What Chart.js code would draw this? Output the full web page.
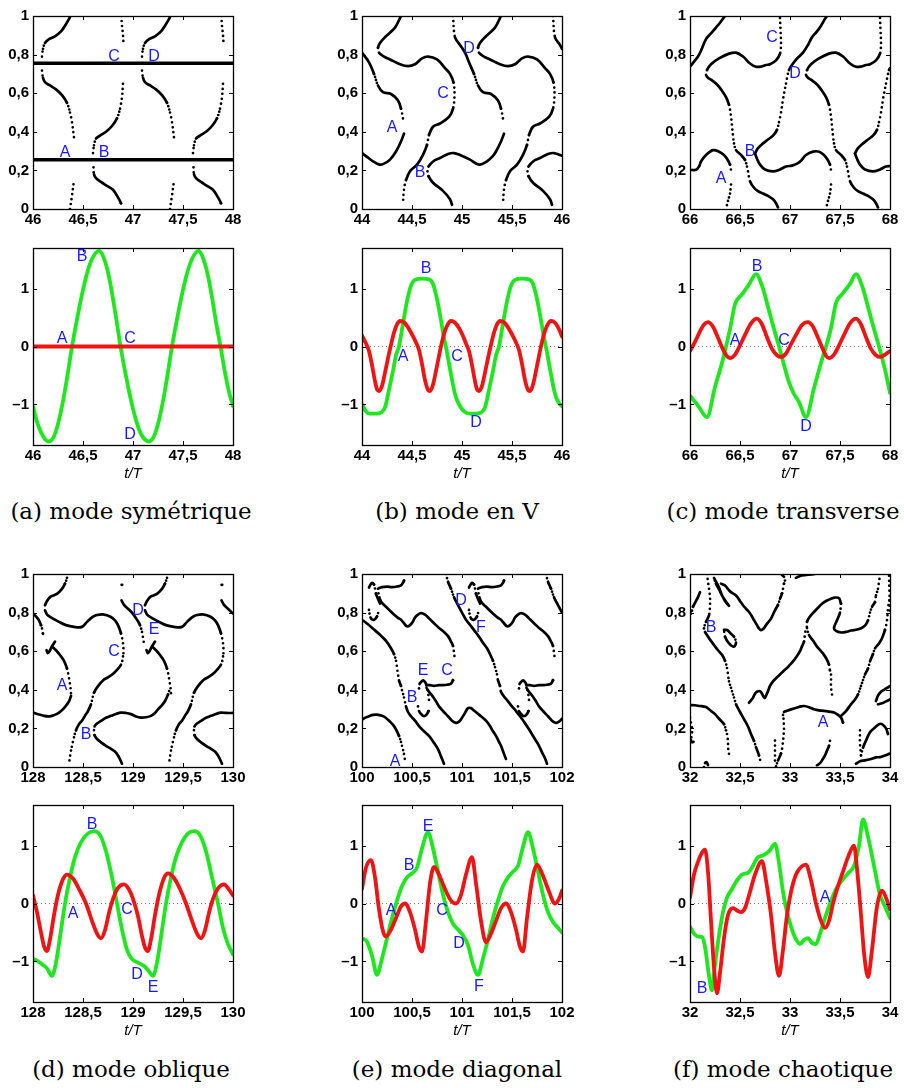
<!DOCTYPE html>
<html>
<head>
<meta charset="utf-8">
<title>Modes</title>
<script src="https://cdn.jsdelivr.net/npm/chart.js@4.4.1/dist/chart.umd.min.js"></script>
<style>
  body { margin: 0; background: #fff; width: 904px; height: 1088px; position: relative; overflow: hidden; }
  canvas { position: absolute; }
  .cap { position: absolute; width: 320px; text-align: center; font-family: "DejaVu Serif", serif; font-size: 23px; line-height: 26px; color: #000; white-space: nowrap; }
</style>
</head>
<body>
<script>
// ---------- tick labels ----------
const yTicksTop = [0, 0.2, 0.4, 0.6, 0.8, 1];
const yLabelsTop = ['0', '0,2', '0,4', '0,6', '0,8', '1'];
const yTicksBot = [-1, 0, 1];
const yLabelsBot = ['\u20131', '0', '1'];

const xTicksA = [46, 46.5, 47, 47.5, 48];
const xLabelsA = ['46', '46,5', '47', '47,5', '48'];
const xTicksB = [44, 44.5, 45, 45.5, 46];
const xLabelsB = ['44', '44,5', '45', '45,5', '46'];
const xTicksC = [66, 66.5, 67, 67.5, 68];
const xLabelsC = ['66', '66,5', '67', '67,5', '68'];
const xTicksD = [128, 128.5, 129, 129.5, 130];
const xLabelsD = ['128', '128,5', '129', '129,5', '130'];
const xTicksE = [100, 100.5, 101, 101.5, 102];
const xLabelsE = ['100', '100,5', '101', '101,5', '102'];
const xTicksF = [32, 32.5, 33, 33.5, 34];
const xLabelsF = ['32', '32,5', '33', '33,5', '34'];

const captions = ['(a) mode sym\u00e9trique', '(b) mode en V', '(c) mode transverse',
                  '(d) mode oblique', '(e) mode diagonal', '(f) mode chaotique'];

// ---------- (a) ----------
const levelsA = [0.255, 0.755];
const curvesA = [
  [[46.09,0.79],[46.10,0.83],[46.12,0.86],[46.16,0.88],[46.22,0.895],[46.28,0.92],[46.32,0.95],[46.355,0.98],[46.375,1.0]],
  [[46.883,1.0],[46.89,0.95],[46.90,0.90],[46.905,0.86]],
  [[46.09,0.717],[46.10,0.68],[46.12,0.657],[46.17,0.64],[46.23,0.62],[46.29,0.59],[46.34,0.55],[46.37,0.50],[46.39,0.45],[46.41,0.37]],
  [[46.60,0.29],[46.61,0.33],[46.63,0.365],[46.67,0.38],[46.73,0.40],[46.79,0.43],[46.84,0.47],[46.87,0.52],[46.89,0.58],[46.90,0.65]],
  [[46.37,0.0],[46.39,0.07],[46.41,0.148]],
  [[46.605,0.216],[46.61,0.18],[46.63,0.16],[46.68,0.14],[46.74,0.12],[46.80,0.10],[46.85,0.06],[46.88,0.03],[46.89,0.01]],
  [[47.09,0.79],[47.10,0.83],[47.12,0.86],[47.16,0.88],[47.22,0.895],[47.28,0.92],[47.32,0.95],[47.355,0.98],[47.375,1.0]],
  [[47.883,1.0],[47.89,0.95],[47.90,0.90],[47.905,0.86]],
  [[47.09,0.717],[47.10,0.68],[47.12,0.657],[47.17,0.64],[47.23,0.62],[47.29,0.59],[47.34,0.55],[47.37,0.50],[47.39,0.45],[47.41,0.37]],
  [[47.60,0.29],[47.61,0.33],[47.63,0.365],[47.67,0.38],[47.73,0.40],[47.79,0.43],[47.84,0.47],[47.87,0.52],[47.89,0.58],[47.90,0.65]],
  [[47.37,0.0],[47.39,0.07],[47.41,0.148]],
  [[47.605,0.216],[47.61,0.18],[47.63,0.16],[47.68,0.14],[47.74,0.12],[47.80,0.10],[47.85,0.06],[47.88,0.03],[47.89,0.01]]
];
const greenA = [[46.00,-1.03],[46.04,-1.30],[46.08,-1.48],[46.12,-1.60],[46.16,-1.64],[46.21,-1.55],[46.26,-1.27],[46.31,-0.85],[46.35,-0.44],[46.39,0],[46.44,0.47],[46.49,0.90],[46.54,1.26],[46.59,1.51],[46.66,1.65],[46.71,1.52],[46.76,1.20],[46.80,0.82],[46.84,0.40],[46.875,0],[46.93,-0.51],[46.98,-0.93],[47.03,-1.27],[47.08,-1.51],[47.16,-1.64],[47.21,-1.55],[47.26,-1.27],[47.31,-0.85],[47.35,-0.44],[47.39,0],[47.44,0.47],[47.49,0.90],[47.54,1.26],[47.59,1.51],[47.655,1.65],[47.70,1.53],[47.75,1.22],[47.79,0.85],[47.83,0.42],[47.875,0],[47.92,-0.45],[47.96,-0.78],[48.00,-1.03]];
const redA = [[46.0,0],[48.0,0]];
const lettersATop = [['A',46.32,0.29],['B',46.71,0.29],['C',46.81,0.79],['D',47.21,0.79]];
const lettersABot = [['B',46.49,1.55],['A',46.29,0.14],['C',46.97,0.14],['D',46.97,-1.52]];

// ---------- (b) ----------
const curvesB = [
  [[44.39,1.0],[44.33,0.94],[44.23,0.89],[44.18,0.86],[44.16,0.835],[44.17,0.81],[44.22,0.79],[44.28,0.775],[44.38,0.75],[44.46,0.74],[44.53,0.75],[44.60,0.78],[44.66,0.79],[44.75,0.775],[44.83,0.73],[44.88,0.70],[44.915,0.655],[44.925,0.59],[44.91,0.52],[44.87,0.477],[44.78,0.443],[44.71,0.426],[44.67,0.383],[44.65,0.332],[44.61,0.281],[44.55,0.23],[44.48,0.196],[44.44,0.15],[44.42,0.10],[44.41,0.034]],
  [[44.0,0.81],[44.07,0.76],[44.12,0.70],[44.16,0.64],[44.21,0.605],[44.29,0.596],[44.36,0.562],[44.39,0.52],[44.41,0.468]],
  [[44.42,0.39],[44.39,0.35],[44.34,0.298],[44.28,0.256],[44.22,0.235],[44.175,0.23],[44.11,0.247],[44.05,0.27],[44.0,0.29]],
  [[44.90,0.022],[44.88,0.051],[44.81,0.094],[44.71,0.136],[44.665,0.17],[44.655,0.195],[44.665,0.22],[44.72,0.25],[44.78,0.264],[44.86,0.285],[44.92,0.29],[44.98,0.28],[45.08,0.256],[45.17,0.23],[45.25,0.247],[45.31,0.275],[45.34,0.298],[45.39,0.35],[45.42,0.39]],
  [[44.91,1.0],[44.93,0.89],[44.98,0.85],[45.03,0.81],[45.07,0.76],[45.12,0.70],[45.16,0.64],[45.21,0.605],[45.29,0.596],[45.36,0.562],[45.39,0.52],[45.41,0.468]],
  [[45.39,1.0],[45.33,0.94],[45.23,0.89],[45.18,0.86],[45.16,0.835],[45.17,0.81],[45.22,0.79],[45.28,0.775],[45.38,0.75],[45.46,0.74],[45.53,0.75],[45.60,0.78],[45.66,0.79],[45.75,0.775],[45.83,0.73],[45.88,0.70],[45.915,0.655],[45.925,0.59],[45.91,0.52],[45.87,0.477],[45.78,0.443],[45.71,0.426],[45.67,0.383],[45.65,0.332],[45.61,0.281],[45.55,0.23],[45.48,0.196],[45.44,0.15],[45.42,0.10],[45.41,0.034]],
  [[45.90,0.022],[45.88,0.051],[45.81,0.094],[45.71,0.136],[45.665,0.17],[45.655,0.195],[45.665,0.22],[45.72,0.25],[45.78,0.264],[45.86,0.285],[45.92,0.29],[45.98,0.28],[46.0,0.276]],
  [[45.91,1.0],[45.93,0.89],[45.98,0.85],[46.0,0.83]]
];
const greenB = [[44.00,-1.00],[44.04,-1.12],[44.08,-1.16],[44.14,-1.16],[44.19,-1.14],[44.23,-1.05],[44.27,-0.75],[44.31,-0.42],[44.34,-0.15],[44.37,0],[44.41,0.40],[44.45,0.78],[44.49,1.05],[44.53,1.15],[44.60,1.17],[44.67,1.16],[44.71,1.08],[44.75,0.82],[44.79,0.45],[44.82,0.15],[44.85,-0.10],[44.89,-0.48],[44.93,-0.82],[44.97,-1.00],[45.02,-1.12],[45.08,-1.16],[45.14,-1.16],[45.19,-1.14],[45.23,-1.05],[45.27,-0.75],[45.31,-0.42],[45.34,-0.15],[45.37,0],[45.41,0.40],[45.45,0.78],[45.49,1.05],[45.53,1.15],[45.60,1.17],[45.67,1.16],[45.71,1.08],[45.75,0.82],[45.79,0.45],[45.82,0.15],[45.85,-0.10],[45.89,-0.48],[45.93,-0.82],[45.97,-0.98],[46.00,-1.03]];
const redB = [[44.00,0.19],[44.04,0.05],[44.07,-0.08],[44.10,-0.32],[44.13,-0.60],[44.15,-0.74],[44.17,-0.77],[44.20,-0.68],[44.23,-0.45],[44.26,-0.20],[44.29,0.03],[44.32,0.24],[44.35,0.38],[44.38,0.44],[44.42,0.42],[44.46,0.33],[44.50,0.21],[44.54,0.07],[44.57,-0.06],[44.60,-0.30],[44.63,-0.58],[44.66,-0.75],[44.68,-0.77],[44.71,-0.66],[44.74,-0.42],[44.77,-0.16],[44.80,0.08],[44.83,0.27],[44.86,0.39],[44.89,0.44],[44.93,0.41],[44.97,0.32],[45.01,0.18],[45.04,0.05],[45.07,-0.08],[45.10,-0.32],[45.13,-0.60],[45.15,-0.74],[45.17,-0.77],[45.20,-0.68],[45.23,-0.45],[45.26,-0.20],[45.29,0.03],[45.32,0.24],[45.35,0.38],[45.38,0.44],[45.42,0.42],[45.46,0.33],[45.50,0.21],[45.54,0.07],[45.57,-0.06],[45.60,-0.30],[45.63,-0.58],[45.66,-0.75],[45.68,-0.77],[45.71,-0.66],[45.74,-0.42],[45.77,-0.16],[45.80,0.08],[45.83,0.27],[45.86,0.39],[45.89,0.44],[45.93,0.41],[45.97,0.30],[46.00,0.17]];
const lettersBTop = [['A',44.30,0.42],['B',44.58,0.19],['C',44.81,0.60],['D',45.07,0.83]];
const lettersBBot = [['B',44.64,1.34],['A',44.41,-0.17],['C',44.95,-0.17],['D',45.14,-1.32]];

// ---------- (c) ----------
const curvesC = [
  [[66.0,0.737],[66.05,0.77],[66.08,0.79],[66.11,0.82],[66.16,0.88],[66.21,0.91],[66.26,0.94],[66.30,0.965],[66.35,1.0]],
  [[66.90,0.99],[66.905,0.93],[66.91,0.856],[66.90,0.805],[66.86,0.77],[66.80,0.75],[66.76,0.746],[66.71,0.738],[66.66,0.737],[66.60,0.754],[66.53,0.79],[66.46,0.81],[66.39,0.805],[66.29,0.78],[66.21,0.75],[66.17,0.72],[66.16,0.695],[66.18,0.68],[66.21,0.67],[66.27,0.645],[66.31,0.62],[66.36,0.58],[66.39,0.54],[66.41,0.48],[66.42,0.43],[66.43,0.38],[66.44,0.34],[66.46,0.305],[66.51,0.28],[66.55,0.254],[66.57,0.22],[66.58,0.195],[66.60,0.144],[66.64,0.11],[66.68,0.093],[66.73,0.08],[66.78,0.068],[66.83,0.05],[66.86,0.03],[66.88,0.008]],
  [[66.0,0.203],[66.06,0.203],[66.09,0.22],[66.11,0.246],[66.16,0.28],[66.23,0.305],[66.29,0.297],[66.34,0.28],[66.37,0.26],[66.40,0.23],[66.41,0.20]],
  [[66.41,0.127],[66.40,0.08],[66.38,0.042],[66.36,0.0]],
  [[66.65,0.288],[66.68,0.315],[66.73,0.34],[66.78,0.36],[66.83,0.38],[66.87,0.41],[66.89,0.45],[66.91,0.5],[66.93,0.568],[66.96,0.65],[66.99,0.72],[67.03,0.754],[67.08,0.785],[67.13,0.81],[67.18,0.85],[67.22,0.89],[67.27,0.92],[67.31,0.95],[67.35,0.985],[67.37,1.0]],
  [[66.65,0.288],[66.67,0.26],[66.70,0.23],[66.75,0.205],[66.83,0.195],[66.90,0.205],[66.96,0.22],[67.02,0.225],[67.07,0.235],[67.11,0.25],[67.16,0.28],[67.23,0.297],[67.29,0.297],[67.34,0.28],[67.37,0.26],[67.40,0.23],[67.41,0.20]],
  [[67.41,0.127],[67.40,0.08],[67.38,0.042],[67.36,0.0]],
  [[67.90,0.99],[67.905,0.93],[67.91,0.856],[67.90,0.805],[67.86,0.77],[67.80,0.75],[67.76,0.746],[67.71,0.738],[67.66,0.737],[67.60,0.754],[67.53,0.79],[67.46,0.81],[67.39,0.805],[67.29,0.78],[67.21,0.75],[67.17,0.72],[67.16,0.695],[67.18,0.68],[67.21,0.67],[67.27,0.645],[67.31,0.62],[67.36,0.58],[67.39,0.54],[67.41,0.48],[67.42,0.43],[67.43,0.38],[67.44,0.34],[67.46,0.305],[67.51,0.28],[67.55,0.254],[67.57,0.22],[67.58,0.195],[67.60,0.144],[67.64,0.11],[67.68,0.093],[67.73,0.08],[67.78,0.068],[67.83,0.05],[67.86,0.03],[67.88,0.008]],
  [[67.65,0.288],[67.68,0.315],[67.73,0.34],[67.78,0.36],[67.83,0.38],[67.87,0.41],[67.89,0.45],[67.91,0.5],[67.93,0.568],[67.96,0.65],[67.99,0.72],[68.0,0.73]],
  [[67.65,0.288],[67.67,0.26],[67.70,0.23],[67.75,0.205],[67.83,0.195],[67.90,0.205],[67.96,0.22],[68.0,0.222]]
];
const greenC = [[66.00,-0.85],[66.08,-1.02],[66.17,-1.22],[66.25,-0.70],[66.32,-0.28],[66.36,0.0],[66.40,0.30],[66.45,0.73],[66.52,0.90],[66.59,1.07],[66.66,1.25],[66.72,1.05],[66.79,0.62],[66.84,0.30],[66.89,0.0],[66.94,-0.32],[66.99,-0.62],[67.04,-0.82],[67.09,-0.96],[67.16,-1.22],[67.24,-0.72],[67.31,-0.28],[67.36,0.0],[67.41,0.32],[67.46,0.75],[67.53,0.92],[67.60,1.08],[67.66,1.25],[67.72,1.05],[67.79,0.62],[67.84,0.30],[67.89,0.0],[67.95,-0.40],[68.00,-0.80]];
const redC = [[66.00,-0.08],[66.05,0.08],[66.10,0.26],[66.14,0.38],[66.18,0.42],[66.23,0.34],[66.28,0.15],[66.33,-0.05],[66.37,-0.17],[66.40,-0.20],[66.45,-0.14],[66.50,0.02],[66.55,0.20],[66.61,0.40],[66.67,0.48],[66.72,0.38],[66.77,0.16],[66.82,-0.04],[66.87,-0.15],[66.91,-0.18],[66.96,-0.12],[67.01,0.04],[67.06,0.20],[67.12,0.37],[67.18,0.42],[67.23,0.34],[67.28,0.15],[67.33,-0.05],[67.36,-0.16],[67.39,-0.20],[67.44,-0.14],[67.49,0.02],[67.54,0.20],[67.60,0.40],[67.66,0.48],[67.71,0.38],[67.76,0.16],[67.81,-0.04],[67.86,-0.15],[67.90,-0.18],[67.95,-0.14],[68.00,-0.08]];
const lettersCTop = [['A',66.31,0.16],['B',66.60,0.30],['C',66.82,0.89],['D',67.05,0.70]];
const lettersCBot = [['B',66.67,1.38],['A',66.45,0.11],['C',66.94,0.11],['D',67.16,-1.38]];

// ---------- (d) ----------
const curvesD = [
  [[128.12,0.838],[128.14,0.86],[128.17,0.88],[128.21,0.89],[128.24,0.897],[128.29,0.923],[128.32,0.95],[128.34,0.98],[128.35,1.0]],
  [[128.12,0.812],[128.14,0.79],[128.17,0.778],[128.26,0.752],[128.33,0.735],[128.41,0.726],[128.49,0.726],[128.54,0.752],[128.59,0.775],[128.63,0.786],[128.71,0.79],[128.77,0.78],[128.82,0.76],[128.85,0.735],[128.88,0.692],[128.90,0.641],[128.905,0.60],[128.90,0.573],[128.88,0.53],[128.81,0.487],[128.75,0.465],[128.71,0.453],[128.65,0.419],[128.61,0.385],[128.58,0.325],[128.55,0.29],[128.53,0.274],[128.49,0.24],[128.46,0.222],[128.43,0.19],[128.41,0.154],[128.38,0.085],[128.36,0.017]],
  [[128.0,0.795],[128.03,0.78],[128.06,0.76],[128.08,0.735],[128.09,0.718],[128.10,0.69],[128.11,0.667]],
  [[128.22,0.65],[128.19,0.625],[128.165,0.60],[128.15,0.59],[128.135,0.605]],
  [[128.19,0.625],[128.23,0.605],[128.27,0.58],[128.31,0.55],[128.34,0.51],[128.36,0.46],[128.375,0.41],[128.38,0.38]],
  [[128.38,0.368],[128.36,0.34],[128.34,0.325],[128.31,0.305],[128.28,0.29],[128.24,0.275],[128.19,0.265],[128.15,0.262],[128.11,0.265],[128.06,0.272],[128.0,0.282]],
  [[128.89,0.017],[128.87,0.04],[128.85,0.06],[128.82,0.08],[128.78,0.094],[128.73,0.11],[128.68,0.128],[128.64,0.145],[128.615,0.165],[128.61,0.19],[128.615,0.21],[128.64,0.225],[128.68,0.239],[128.73,0.255],[128.78,0.265],[128.83,0.275],[128.88,0.282],[128.93,0.28],[128.98,0.274],[129.03,0.262],[129.08,0.256],[129.13,0.258],[129.18,0.265],[129.22,0.28],[129.25,0.299],[129.29,0.32],[129.32,0.342],[129.35,0.375],[129.37,0.41]],
  [[128.886,0.944],[128.892,0.944]],
  [[128.885,0.863],[128.91,0.84],[128.95,0.82],[128.99,0.80],[129.02,0.778],[129.05,0.755],[129.07,0.735],[129.09,0.70],[129.10,0.67],[129.11,0.64]],
  [[129.12,0.838],[129.14,0.86],[129.17,0.88],[129.21,0.89],[129.24,0.897],[129.29,0.923],[129.32,0.95],[129.34,0.98],[129.35,1.0]],
  [[129.12,0.812],[129.14,0.79],[129.17,0.778],[129.26,0.752],[129.33,0.735],[129.41,0.726],[129.49,0.726],[129.54,0.752],[129.59,0.775],[129.63,0.786],[129.71,0.79],[129.77,0.78],[129.82,0.76],[129.85,0.735],[129.88,0.692],[129.90,0.641],[129.905,0.60],[129.90,0.573],[129.88,0.53],[129.81,0.487],[129.75,0.465],[129.71,0.453],[129.65,0.419],[129.61,0.385],[129.58,0.325],[129.55,0.29],[129.53,0.274],[129.49,0.24],[129.46,0.222],[129.43,0.19],[129.41,0.154],[129.38,0.085],[129.36,0.017]],
  [[129.22,0.65],[129.19,0.625],[129.165,0.60],[129.15,0.59],[129.135,0.605]],
  [[129.19,0.625],[129.23,0.605],[129.27,0.58],[129.31,0.55],[129.34,0.51],[129.36,0.46],[129.375,0.41],[129.38,0.38]],
  [[129.89,0.017],[129.87,0.04],[129.85,0.06],[129.82,0.08],[129.78,0.094],[129.73,0.11],[129.68,0.128],[129.64,0.145],[129.615,0.165],[129.61,0.19],[129.615,0.21],[129.64,0.225],[129.68,0.239],[129.73,0.255],[129.78,0.265],[129.83,0.275],[129.88,0.282],[129.93,0.28],[130.0,0.28]],
  [[129.886,0.944],[129.892,0.944]],
  [[129.885,0.863],[129.91,0.84],[129.95,0.82],[129.99,0.80],[130.0,0.795]]
];
const greenD = [[128.00,-0.95],[128.05,-1.00],[128.10,-1.06],[128.14,-1.12],[128.19,-1.25],[128.23,-1.02],[128.27,-0.58],[128.32,0.00],[128.37,0.45],[128.42,0.80],[128.48,1.06],[128.55,1.21],[128.61,1.25],[128.67,1.18],[128.73,0.90],[128.79,0.45],[128.84,0.00],[128.89,-0.45],[128.94,-0.80],[128.99,-0.96],[129.05,-1.02],[129.11,-1.08],[129.15,-1.15],[129.20,-1.25],[129.24,-1.02],[129.28,-0.58],[129.33,0.00],[129.38,0.45],[129.43,0.80],[129.49,1.06],[129.55,1.21],[129.61,1.25],[129.67,1.18],[129.73,0.90],[129.79,0.45],[129.85,0.00],[129.90,-0.42],[129.95,-0.70],[130.00,-0.88]];
const redD = [[128.00,0.14],[128.04,-0.15],[128.08,-0.50],[128.11,-0.74],[128.14,-0.82],[128.17,-0.62],[128.21,-0.20],[128.25,0.15],[128.30,0.42],[128.34,0.50],[128.40,0.43],[128.46,0.25],[128.53,0.00],[128.59,-0.30],[128.64,-0.52],[128.68,-0.60],[128.72,-0.46],[128.76,-0.16],[128.80,0.08],[128.85,0.27],[128.91,0.33],[128.96,0.24],[129.00,0.08],[129.05,-0.22],[129.09,-0.56],[129.12,-0.76],[129.15,-0.82],[129.18,-0.62],[129.22,-0.20],[129.26,0.15],[129.31,0.44],[129.35,0.52],[129.41,0.44],[129.47,0.25],[129.53,0.00],[129.59,-0.30],[129.64,-0.52],[129.68,-0.60],[129.72,-0.46],[129.76,-0.16],[129.80,0.08],[129.85,0.26],[129.91,0.33],[129.96,0.24],[130.00,0.14]];
const lettersDTop = [['A',128.29,0.42],['B',128.53,0.17],['C',128.81,0.60],['D',129.05,0.81],['E',129.21,0.71]];
const lettersDBot = [['B',128.59,1.37],['A',128.40,-0.17],['C',128.94,-0.10],['D',129.04,-1.22],['E',129.20,-1.45]];

// ---------- (e) ----------
const curvesE = [
  [[100.0,0.763],[100.06,0.74],[100.12,0.712],[100.18,0.685],[100.24,0.653],[100.29,0.615],[100.32,0.585],[100.34,0.55],[100.35,0.517],[100.36,0.48],[100.37,0.449],[100.39,0.42],[100.40,0.398],[100.42,0.36],[100.44,0.314],[100.46,0.285],[100.49,0.263],[100.53,0.24],[100.57,0.212],[100.62,0.185],[100.67,0.161],[100.72,0.125],[100.76,0.093],[100.79,0.055],[100.82,0.017]],
  [[100.0,0.246],[100.04,0.257],[100.07,0.263],[100.11,0.27],[100.15,0.271],[100.20,0.265],[100.24,0.254],[100.28,0.235],[100.32,0.212],[100.35,0.185],[100.37,0.161],[100.39,0.13],[100.40,0.11],[100.42,0.068],[100.43,0.034]],
  [[100.07,0.93],[100.085,0.945],[100.10,0.954],[100.12,0.945],[100.13,0.925],[100.14,0.898],[100.16,0.87],[100.18,0.847]],
  [[100.16,0.924],[100.20,0.932],[100.25,0.935],[100.30,0.932],[100.35,0.935],[100.39,0.941],[100.41,0.955],[100.42,0.966],[100.43,0.99]],
  [[100.07,0.814],[100.075,0.795],[100.085,0.775],[100.10,0.765],[100.12,0.763],[100.14,0.772],[100.15,0.78],[100.165,0.805]],
  [[100.165,0.90],[100.18,0.87],[100.20,0.85],[100.24,0.83],[100.28,0.81],[100.32,0.79],[100.36,0.773],[100.39,0.763],[100.42,0.745],[100.45,0.729],[100.48,0.735],[100.51,0.754],[100.53,0.775],[100.56,0.79],[100.59,0.797],[100.63,0.79],[100.67,0.77],[100.72,0.745],[100.77,0.72],[100.82,0.70],[100.86,0.678],[100.89,0.65],[100.91,0.627],[100.92,0.593],[100.93,0.551]],
  [[100.84,1.0],[100.86,0.96],[100.89,0.924],[100.92,0.88],[100.96,0.839],[101.00,0.80],[101.04,0.763],[101.09,0.73],[101.13,0.703],[101.17,0.675],[101.21,0.644],[101.25,0.615],[101.28,0.585],[101.31,0.55],[101.33,0.517],[101.35,0.48],[101.36,0.449],[101.38,0.42],[101.39,0.39],[101.42,0.365],[101.45,0.347],[101.50,0.314],[101.54,0.29],[101.58,0.263],[101.62,0.235],[101.66,0.203],[101.70,0.17],[101.73,0.144],[101.77,0.11],[101.80,0.076],[101.83,0.045],[101.85,0.017]],
  [[100.57,0.407],[100.575,0.43],[100.59,0.44],[100.61,0.449],[100.63,0.44],[100.645,0.424],[100.655,0.40],[100.665,0.37],[100.67,0.347]],
  [[100.645,0.424],[100.68,0.424],[100.72,0.42],[100.77,0.424],[100.81,0.424],[100.85,0.426],[100.89,0.432],[100.91,0.45],[100.92,0.466]],
  [[100.645,0.41],[100.67,0.39],[100.71,0.364],[100.74,0.34],[100.77,0.314],[100.81,0.29],[100.86,0.263],[100.90,0.24],[100.94,0.229],[100.97,0.235],[101.00,0.255],[101.03,0.28],[101.06,0.305],[101.09,0.305],[101.11,0.297],[101.15,0.28],[101.19,0.263],[101.24,0.24],[101.28,0.212],[101.31,0.185],[101.34,0.161],[101.37,0.13],[101.39,0.11],[101.42,0.068],[101.44,0.042]],
  [[100.56,0.314],[100.57,0.29],[100.59,0.275],[100.61,0.265],[100.63,0.265],[100.65,0.275],[100.665,0.29],[100.67,0.305]],
  [[101.07,0.93],[101.085,0.945],[101.10,0.954],[101.12,0.945],[101.13,0.925],[101.14,0.898],[101.16,0.87],[101.18,0.847]],
  [[101.16,0.924],[101.20,0.932],[101.25,0.935],[101.30,0.932],[101.35,0.935],[101.39,0.941],[101.41,0.955],[101.42,0.966],[101.43,0.99]],
  [[101.07,0.814],[101.075,0.795],[101.085,0.775],[101.10,0.765],[101.12,0.763],[101.14,0.772],[101.15,0.78],[101.165,0.805]],
  [[101.165,0.90],[101.18,0.87],[101.20,0.85],[101.24,0.83],[101.28,0.81],[101.32,0.79],[101.36,0.773],[101.39,0.763],[101.42,0.745],[101.45,0.729],[101.48,0.735],[101.51,0.754],[101.53,0.775],[101.56,0.79],[101.59,0.797],[101.63,0.79],[101.67,0.77],[101.72,0.745],[101.77,0.72],[101.82,0.70],[101.86,0.678],[101.89,0.65],[101.91,0.627],[101.92,0.593],[101.93,0.551]],
  [[101.84,1.0],[101.86,0.96],[101.89,0.924],[101.92,0.88],[101.96,0.839],[102.0,0.80]],
  [[101.57,0.407],[101.575,0.43],[101.59,0.44],[101.61,0.449],[101.63,0.44],[101.645,0.424],[101.655,0.40],[101.665,0.37],[101.67,0.347]],
  [[101.645,0.424],[101.68,0.424],[101.72,0.42],[101.77,0.424],[101.81,0.424],[101.85,0.426],[101.89,0.432],[101.91,0.45],[101.92,0.466]],
  [[101.645,0.41],[101.67,0.39],[101.71,0.364],[101.74,0.34],[101.77,0.314],[101.81,0.29],[101.86,0.263],[101.90,0.24],[101.94,0.229],[101.97,0.235],[102.0,0.25]],
  [[101.56,0.314],[101.57,0.29],[101.59,0.275],[101.61,0.265],[101.63,0.265],[101.65,0.275],[101.665,0.29],[101.67,0.305]]
];
const greenE = [[100.00,-0.60],[100.05,-0.66],[100.10,-0.90],[100.15,-1.23],[100.20,-0.95],[100.25,-0.60],[100.30,-0.25],[100.35,0.05],[100.40,0.30],[100.45,0.45],[100.50,0.52],[100.55,0.62],[100.60,0.95],[100.66,1.23],[100.71,0.95],[100.76,0.55],[100.81,0.15],[100.86,-0.15],[100.91,-0.35],[100.96,-0.45],[101.01,-0.55],[101.06,-0.72],[101.11,-1.05],[101.16,-1.23],[101.21,-0.95],[101.26,-0.62],[101.31,-0.25],[101.36,0.05],[101.41,0.30],[101.46,0.45],[101.51,0.55],[101.56,0.65],[101.61,0.98],[101.66,1.23],[101.71,0.95],[101.76,0.55],[101.81,0.15],[101.86,-0.15],[101.91,-0.32],[101.96,-0.42],[102.00,-0.50]];
const redE = [[100.00,0.25],[100.04,0.62],[100.09,0.75],[100.13,0.45],[100.17,-0.10],[100.21,-0.48],[100.24,-0.57],[100.29,-0.45],[100.34,-0.25],[100.39,-0.05],[100.43,0.00],[100.48,-0.15],[100.53,-0.45],[100.57,-0.75],[100.60,-0.83],[100.64,-0.30],[100.68,0.35],[100.72,0.63],[100.77,0.50],[100.83,0.25],[100.89,0.05],[100.94,0.00],[100.99,0.15],[101.04,0.50],[101.10,0.80],[101.14,0.35],[101.19,-0.30],[101.24,-0.67],[101.29,-0.52],[101.34,-0.30],[101.39,-0.08],[101.44,0.00],[101.49,-0.15],[101.54,-0.45],[101.58,-0.75],[101.61,-0.83],[101.65,-0.25],[101.70,0.40],[101.75,0.67],[101.80,0.52],[101.86,0.25],[101.93,0.00],[101.97,0.08],[102.00,0.22]];
const lettersETop = [['A',100.33,0.03],['B',100.50,0.36],['E',100.61,0.50],['C',100.85,0.50],['D',100.99,0.86],['F',101.19,0.72]];
const lettersEBot = [['E',100.66,1.33],['B',100.47,0.65],['A',100.29,-0.13],['C',100.80,-0.13],['D',100.97,-0.69],['F',101.17,-1.43]];

// ---------- (f) ----------
const curvesF = [
  [[32.17,1.0],[32.18,0.96],[32.19,0.923],[32.20,0.88],[32.20,0.838],[32.19,0.786],[32.16,0.752],[32.14,0.718],[32.15,0.70],[32.17,0.684],[32.20,0.66],[32.24,0.632],[32.28,0.605],[32.32,0.581],[32.35,0.55],[32.37,0.513],[32.38,0.48],[32.39,0.444],[32.41,0.41],[32.42,0.393],[32.44,0.36],[32.46,0.325],[32.50,0.285],[32.54,0.248],[32.58,0.21],[32.61,0.171],[32.64,0.135],[32.66,0.103],[32.69,0.06],[32.71,0.017]],
  [[32.10,0.906],[32.08,0.88],[32.05,0.85],[32.03,0.83],[32.02,0.81],[32.0,0.78]],
  [[32.24,0.98],[32.26,0.96],[32.29,0.93],[32.32,0.89],[32.35,0.86],[32.39,0.835],[32.37,0.85],[32.33,0.88],[32.29,0.92],[32.26,0.95],[32.24,0.98]],
  [[32.31,0.95],[32.35,0.94],[32.40,0.91],[32.46,0.889],[32.50,0.86],[32.53,0.838],[32.56,0.82],[32.59,0.803],[32.62,0.78],[32.64,0.761],[32.67,0.735],[32.69,0.718],[32.71,0.709],[32.74,0.72],[32.76,0.735],[32.79,0.755],[32.81,0.769],[32.83,0.79],[32.85,0.812],[32.88,0.84],[32.90,0.872],[32.92,0.90],[32.93,0.923],[32.94,0.95],[32.95,0.966],[32.94,0.985],[32.92,0.995]],
  [[32.34,0.71],[32.37,0.71],[32.41,0.69],[32.44,0.675],[32.46,0.645],[32.44,0.624],[32.39,0.641],[32.35,0.675],[32.34,0.71]],
  [[33.06,0.98],[33.10,0.99],[33.16,0.995],[33.25,1.0]],
  [[33.51,0.846],[33.49,0.875],[33.45,0.878],[33.41,0.872],[33.36,0.86],[33.32,0.846],[33.28,0.825],[33.24,0.803],[33.20,0.78],[33.17,0.752],[33.17,0.72],[33.19,0.684],[33.23,0.655],[33.27,0.624],[33.31,0.60],[33.34,0.581],[33.37,0.555],[33.39,0.53],[33.40,0.50],[33.41,0.479],[33.41,0.44],[33.41,0.41],[33.42,0.38],[33.42,0.359]],
  [[32.59,0.333],[32.61,0.345],[32.63,0.359],[32.65,0.38],[32.67,0.39],[32.70,0.393],[32.72,0.38],[32.74,0.36],[32.75,0.359],[32.78,0.393],[32.80,0.42],[32.83,0.444],[32.87,0.465],[32.90,0.479],[32.94,0.50],[32.97,0.513],[33.00,0.53],[33.03,0.547],[33.07,0.575],[33.10,0.60],[33.12,0.625],[33.14,0.65],[33.15,0.69],[33.16,0.718]],
  [[32.0,0.321],[32.05,0.32],[32.10,0.316],[32.14,0.313],[32.17,0.308],[32.21,0.29],[32.25,0.274],[32.29,0.25],[32.34,0.222],[32.36,0.19],[32.37,0.171],[32.38,0.13],[32.38,0.103],[32.39,0.068]],
  [[32.0,0.256],[32.01,0.23],[32.02,0.205],[32.02,0.17],[32.01,0.14],[32.02,0.128],[32.035,0.13]],
  [[32.14,0.0],[32.15,0.02],[32.165,0.025],[32.18,0.01]],
  [[32.86,0.003],[32.88,0.034],[32.91,0.07],[32.925,0.11],[32.935,0.16],[32.94,0.205],[32.935,0.25],[32.93,0.27],[32.94,0.285],[32.97,0.291],[33.02,0.30],[33.07,0.308],[33.11,0.314],[33.14,0.316],[33.19,0.31],[33.24,0.299],[33.29,0.293],[33.34,0.291],[33.39,0.287],[33.44,0.282],[33.48,0.27],[33.51,0.256],[33.53,0.23],[33.54,0.205]],
  [[32.85,0.137],[32.85,0.09],[32.85,0.05],[32.85,0.017]],
  [[33.27,0.009],[33.30,0.02],[33.32,0.034],[33.35,0.06],[33.37,0.085],[33.39,0.11],[33.40,0.137]],
  [[33.51,0.846],[33.50,0.80],[33.47,0.76],[33.44,0.72],[33.46,0.705],[33.51,0.697],[33.56,0.70],[33.61,0.707],[33.64,0.709],[33.69,0.715],[33.73,0.725],[33.76,0.74],[33.78,0.76],[33.80,0.80],[33.82,0.83],[33.85,0.855],[33.86,0.89],[33.88,0.923],[33.89,0.96],[33.90,0.991]],
  [[33.51,0.265],[33.56,0.29],[33.61,0.325],[33.65,0.35],[33.68,0.376],[33.71,0.42],[33.75,0.479],[33.78,0.51],[33.80,0.547],[33.83,0.585],[33.85,0.615],[33.89,0.64],[33.92,0.667],[33.95,0.71],[33.97,0.761],[33.98,0.82],[34.0,0.889]],
  [[33.71,0.06],[33.73,0.10],[33.76,0.137],[33.80,0.18],[33.85,0.205],[33.89,0.222],[33.92,0.222],[33.96,0.20],[33.98,0.171]],
  [[33.66,0.017],[33.70,0.03],[33.75,0.034],[33.80,0.04],[33.86,0.05],[33.90,0.051],[33.95,0.06],[34.0,0.07]],
  [[33.86,0.342],[33.88,0.37],[33.91,0.39],[33.94,0.40],[33.97,0.41],[34.0,0.419]],
  [[33.88,0.325],[33.92,0.33],[33.96,0.34],[34.0,0.35]],
  [[33.99,0.991],[33.995,0.9],[34.0,0.80]],
  [[33.70,0.19],[33.70,0.12],[33.71,0.06]]
];
const greenF = [[32.00,-0.40],[32.04,-0.52],[32.08,-0.57],[32.12,-0.58],[32.15,-0.75],[32.19,-1.25],[32.22,-1.50],[32.25,-1.05],[32.29,-0.55],[32.33,-0.15],[32.37,0.10],[32.42,0.25],[32.47,0.40],[32.52,0.50],[32.58,0.53],[32.62,0.62],[32.67,0.78],[32.73,0.83],[32.79,0.90],[32.85,1.03],[32.89,0.70],[32.93,0.20],[32.97,-0.15],[33.02,-0.45],[33.06,-0.62],[33.10,-0.70],[33.14,-0.63],[33.18,-0.60],[33.22,-0.68],[33.26,-0.70],[33.30,-0.52],[33.35,-0.25],[33.40,0.00],[33.46,0.25],[33.52,0.40],[33.58,0.52],[33.64,0.65],[33.69,1.00],[33.73,1.45],[33.78,1.15],[33.84,0.65],[33.90,0.15],[33.95,-0.05],[34.00,-0.25]];
const redF = [[32.00,0.10],[32.04,0.50],[32.08,0.72],[32.12,0.88],[32.15,0.93],[32.18,0.55],[32.21,-0.30],[32.24,-1.10],[32.27,-1.55],[32.30,-1.20],[32.34,-0.60],[32.38,-0.20],[32.43,-0.08],[32.47,-0.12],[32.51,-0.15],[32.55,-0.08],[32.60,0.20],[32.65,0.50],[32.72,0.73],[32.76,0.40],[32.81,-0.20],[32.85,-0.85],[32.89,-1.25],[32.93,-0.80],[32.97,-0.20],[33.01,0.20],[33.06,0.50],[33.11,0.63],[33.16,0.67],[33.21,0.40],[33.26,0.00],[33.31,-0.30],[33.35,-0.42],[33.39,-0.30],[33.43,0.00],[33.48,0.30],[33.53,0.55],[33.58,0.80],[33.64,1.00],[33.67,0.60],[33.71,-0.20],[33.74,-0.85],[33.78,-1.27],[33.82,-0.80],[33.87,-0.05],[33.92,0.22],[33.96,0.10],[34.00,-0.10]];
const lettersFTop = [['B',32.21,0.72],['A',33.33,0.23]];
const lettersFBot = [['A',33.35,0.11],['B',32.12,-1.47]];

// ---------- layout ----------
const COLS = [33, 362, 690];
const BOX_W = 200;
const TOP_BOX = [13, 571];
const TOP_H = 196;
const BOT_BOX = [245, 802];
const BOT_H = 200;
const CAP_X = [131, 457, 783];
const CAP_Y = [512, 1070];

const tickFont = { family: 'Liberation Sans', size: 15, weight: 'bold' };
const GREEN = '#1fe61f';
const RED = '#ee1414';
const BLUE = '#1a1aff';

// inward tick marks, box and blue letters
const framePlugin = {
  id: 'frame',
  afterDatasetsDraw(chart, args, opts) {
    const { ctx, chartArea: a } = chart;
    const x = chart.scales.x, y = chart.scales.y;
    ctx.save();
    ctx.strokeStyle = '#000';
    ctx.lineWidth = 1;
    ctx.beginPath();
    const L = 4;
    x.ticks.forEach(t => {
      const px = Math.round(x.getPixelForValue(t.value)) + 0.5;
      ctx.moveTo(px, a.bottom); ctx.lineTo(px, a.bottom - L);
      ctx.moveTo(px, a.top); ctx.lineTo(px, a.top + L);
    });
    y.ticks.forEach(t => {
      const py = Math.round(y.getPixelForValue(t.value)) + 0.5;
      ctx.moveTo(a.left, py); ctx.lineTo(a.left + L, py);
      ctx.moveTo(a.right, py); ctx.lineTo(a.right - L, py);
    });
    ctx.stroke();
    ctx.lineWidth = 1.3;
    ctx.strokeRect(Math.round(a.left) + 0.5, Math.round(a.top) + 0.5, Math.round(a.width), Math.round(a.height));
    ctx.fillStyle = BLUE;
    ctx.font = '16px "Liberation Sans"';
    ctx.textAlign = 'center';
    ctx.textBaseline = 'middle';
    (opts.letters || []).forEach(l => {
      ctx.fillText(l[0], x.getPixelForValue(l[1]), y.getPixelForValue(l[2]));
    });
    ctx.restore();
  }
};

function pts(arr) { return arr.map(p => ({ x: p[0], y: p[1] })); }

// steep pieces of a sampled curve come out as separate dots
function steepDash(ctx) {
  const dx = Math.abs(ctx.p1.x - ctx.p0.x);
  const dy = Math.abs(ctx.p1.y - ctx.p0.y);
  const s = dy / Math.max(dx, 0.2);
  if (s < 2.8) return undefined;
  return [0, Math.min(1.1 * s, 5)];
}

function makeCanvas(left, top, w, h) {
  const c = document.createElement('canvas');
  c.width = w; c.height = h;
  c.style.left = left + 'px'; c.style.top = top + 'px';
  c.style.width = w + 'px'; c.style.height = h + 'px';
  document.body.appendChild(c);
  return c;
}

function panel(col, boxTop, boxH, bottom, xTicks, xLabels, datasets, letters) {
  const axisH = bottom ? 38 : 22;
  const c = makeCanvas(COLS[col] - 44, boxTop - 10, 44 + BOX_W + 20, 10 + boxH + axisH);
  const yTicks = bottom ? yTicksBot : yTicksTop;
  const yLabels = bottom ? yLabelsBot : yLabelsTop;
  new Chart(c, {
    type: 'scatter',
    data: { datasets },
    options: {
      responsive: false,
      animation: false,
      devicePixelRatio: 1,
      layout: { padding: { top: 10, right: 20, left: 0, bottom: 0 } },
      plugins: { legend: { display: false }, tooltip: { enabled: false }, frame: { letters } },
      scales: {
        x: {
          type: 'linear', min: xTicks[0], max: xTicks[xTicks.length - 1],
          grid: { display: false, drawTicks: false }, border: { display: false },
          afterBuildTicks: s => { s.ticks = xTicks.map(v => ({ value: v })); },
          afterFit: s => { s.height = axisH; },
          ticks: { color: '#000', font: tickFont, padding: 2, maxRotation: 0, autoSkip: false, callback: (v, i) => xLabels[i] },
          title: { display: bottom, text: 't/T', color: '#000', padding: 0,
                   font: { family: 'Liberation Sans', size: 15, style: 'italic' } }
        },
        y: {
          type: 'linear', min: bottom ? -1.7 : 0, max: bottom ? 1.7 : 1,
          grid: { display: false, drawTicks: false }, border: { display: false },
          afterBuildTicks: s => { s.ticks = yTicks.map(v => ({ value: v })); },
          afterFit: s => { s.width = 44; },
          ticks: { color: '#000', font: tickFont, padding: 4, autoSkip: false, callback: (v, i) => yLabels[i] }
        }
      }
    },
    plugins: [framePlugin]
  });
}

function topPanel(col, row, xTicks, xLabels, curves, letters, levels) {
  const ds = [];
  (levels || []).forEach(v => ds.push({
    data: pts([[xTicks[0], v], [xTicks[xTicks.length - 1], v]]),
    showLine: true, borderColor: '#000', borderWidth: 3.4, pointRadius: 0
  }));
  curves.forEach(cv => ds.push({
    data: pts(cv), showLine: true, borderColor: '#000', borderWidth: 2.7,
    pointRadius: 0, tension: 0.35, borderCapStyle: 'round', borderJoinStyle: 'round',
    segment: { borderDash: steepDash }
  }));
  panel(col, TOP_BOX[row], TOP_H, false, xTicks, xLabels, ds, letters);
}

function bottomPanel(col, row, xTicks, xLabels, green, red, letters) {
  const ds = [
    { data: pts(red), showLine: true, borderColor: RED, borderWidth: 3.8, pointRadius: 0,
      cubicInterpolationMode: 'monotone', borderCapStyle: 'round', borderJoinStyle: 'round' },
    { data: pts(green), showLine: true, borderColor: GREEN, borderWidth: 3.8, pointRadius: 0,
      cubicInterpolationMode: 'monotone', borderCapStyle: 'round', borderJoinStyle: 'round' },
    { data: pts([[xTicks[0], 0], [xTicks[xTicks.length - 1], 0]]), showLine: true,
      borderColor: '#777', borderWidth: 1, borderDash: [1, 3], pointRadius: 0 }
  ];
  panel(col, BOT_BOX[row], BOT_H, true, xTicks, xLabels, ds, letters);
}

topPanel(0, 0, xTicksA, xLabelsA, curvesA, lettersATop, levelsA);
topPanel(1, 0, xTicksB, xLabelsB, curvesB, lettersBTop);
topPanel(2, 0, xTicksC, xLabelsC, curvesC, lettersCTop);
topPanel(0, 1, xTicksD, xLabelsD, curvesD, lettersDTop);
topPanel(1, 1, xTicksE, xLabelsE, curvesE, lettersETop);
topPanel(2, 1, xTicksF, xLabelsF, curvesF, lettersFTop);

bottomPanel(0, 0, xTicksA, xLabelsA, greenA, redA, lettersABot);
bottomPanel(1, 0, xTicksB, xLabelsB, greenB, redB, lettersBBot);
bottomPanel(2, 0, xTicksC, xLabelsC, greenC, redC, lettersCBot);
bottomPanel(0, 1, xTicksD, xLabelsD, greenD, redD, lettersDBot);
bottomPanel(1, 1, xTicksE, xLabelsE, greenE, redE, lettersEBot);
bottomPanel(2, 1, xTicksF, xLabelsF, greenF, redF, lettersFBot);

captions.forEach((t, i) => {
  const d = document.createElement('div');
  d.className = 'cap';
  d.textContent = t;
  d.style.left = (CAP_X[i % 3] - 160) + 'px';
  d.style.top = (CAP_Y[Math.floor(i / 3)] - 14) + 'px';
  document.body.appendChild(d);
});
</script>
</body>
</html>
